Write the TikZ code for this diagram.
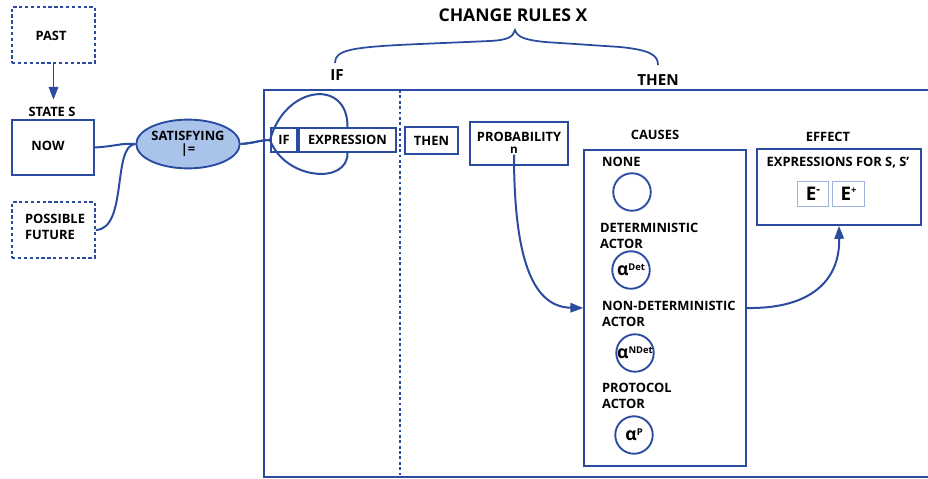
\documentclass[tikz,border=0pt]{standalone}
\usepackage{fontspec}
\setmainfont{Open Sans}
\usetikzlibrary{arrows.meta,shapes.geometric}
\definecolor{lineblue}{HTML}{2B4BA0}
\definecolor{satfill}{HTML}{A9C3EA}
\definecolor{thinblue}{HTML}{9DB2DC}
\tikzset{
  every node/.style={font=\bfseries\fontsize{11}{13}\selectfont, text=black},
  solidbox/.style={draw=lineblue, line width=1.8pt, rectangle, inner sep=0pt},
  dashbox/.style={draw=lineblue, line width=1.6pt, dash pattern=on 2.8pt off 2.2pt, rectangle, inner sep=0pt},
  actor/.style={draw=lineblue, line width=1.6pt, circle, minimum size=32pt, inner sep=0pt},
  ebox/.style={draw=thinblue, line width=0.7pt, rectangle, minimum width=27pt, minimum height=21pt, inner sep=0pt, font=\bfseries\fontsize{16}{16}\selectfont},
  conn/.style={draw=lineblue, line width=1.7pt},
  tip/.style={-{Triangle[length=11pt, width=8pt]}}
}
\begin{document}
\begin{tikzpicture}[x=0.03cm, y=-0.03cm]
\useasboundingbox (0,0) rectangle (928,478);
% left side: states
\node[dashbox, minimum width=83*0.85pt, minimum height=56*0.85pt] (past) at (53.5,35) {};
\node (pasttxt) at (51,36) {PAST};
\node (statelbl) at (52,112) {STATE S};
\node[solidbox, minimum width=82*0.85pt, minimum height=55*0.85pt] (now) at (53,147.5) {};
\node (nowtxt) at (48,146) {NOW};
\node[dashbox, minimum width=83*0.85pt, minimum height=56*0.85pt] (future) at (53.5,230) {};
\node[align=left, font=\bfseries\fontsize{11}{13}\selectfont] (futuretxt) at (55,227) {POSSIBLE\\FUTURE};
\node[draw=lineblue, fill=satfill, line width=1.6pt, ellipse, minimum width=95*0.85pt, minimum height=49*0.85pt, inner sep=0pt, align=center, font=\bfseries\fontsize{11}{13}\selectfont] (sat) at (188,144) {SATISFYING\\[-2pt]|=};
\draw[conn, tip] (past.south) -- ++(0,36);
\draw[conn] (now.east) .. controls (118,146) and (120,143) .. (sat.west);
\draw[conn] (future.east) .. controls (128,229) and (112,145) .. (sat.west);
% change rules frame
\node[font=\bfseries\fontsize{15}{17}\selectfont] (title) at (513,15) {CHANGE RULES X};
\node[font=\bfseries\fontsize{13}{15}\selectfont] (iflbl) at (337,75) {IF};
\node[font=\bfseries\fontsize{13}{15}\selectfont] (thenlbl) at (658,80) {THEN};
\draw[conn, line width=1.5pt] (335,63) .. controls (335,50) and (350,47) .. (420,44) -- (490,41) .. controls (508,40) and (513,37) .. (515,30)
  .. controls (517,37) and (525,40) .. (545,42) -- (620,47) .. controls (650,50) and (658,55) .. (658,65);
\draw[conn] (928,90) -- (264,90) -- (264,477) -- (928,477);
\draw[draw=lineblue, line width=1.6pt, dash pattern=on 2.4pt off 2.2pt] (400,90) -- (400,477);
% if part
\node[solidbox, minimum width=26*0.85pt, minimum height=24*0.85pt] (ifbox) at (284,140) {IF};
\node[solidbox, minimum width=97*0.85pt, minimum height=24*0.85pt] (expr) at (347.5,140) {EXPRESSION};
\draw[conn] (sat.east) .. controls (255,143) and (260,140) .. (270,140) .. controls (285,85) and (348,78) .. (expr.north);
\draw[conn] (sat.east) .. controls (255,143) and (260,140) .. (270,140) .. controls (285,180) and (348,185) .. (expr.south);
% then part
\node[solidbox, minimum width=53*0.85pt, minimum height=27*0.85pt] (thenbox) at (431.5,140.5) {THEN};
\node[solidbox, minimum width=98*0.85pt, minimum height=43*0.85pt] (prob) at (519,143.5) {};
\node (probtxt) at (519,137) {PROBABILITY};
\node[font=\bfseries\fontsize{10}{10}\selectfont, inner sep=1pt] (n) at (514,150) {n};
\node (causeslbl) at (655,135) {CAUSES};
\node[solidbox, minimum width=162*0.85pt, minimum height=318*0.85pt] (causes) at (665,308) {};
\node[anchor=west] (none) at (598,162) {NONE};
\node[actor] (anone) at (632,192) {};
\node[anchor=west, align=left, font=\bfseries\fontsize{11}{13}\selectfont] (det) at (596,236) {DETERMINISTIC\\ACTOR};
\node[actor, font=\bfseries\fontsize{15}{15}\selectfont] (adet) at (631,270) {α\raisebox{4pt}{\fontsize{8}{8}\selectfont Det}};
\node[anchor=west, align=left, font=\bfseries\fontsize{11}{13}\selectfont] (ndet) at (598,314) {NON-DETERMINISTIC\\ACTOR};
\node[actor, font=\bfseries\fontsize{15}{15}\selectfont] (andet) at (635,353) {α\raisebox{4pt}{\fontsize{8}{8}\selectfont NDet}};
\node[anchor=west, align=left, font=\bfseries\fontsize{11}{13}\selectfont] (prot) at (598,396) {PROTOCOL\\ACTOR};
\node[actor, font=\bfseries\fontsize{15}{15}\selectfont] (aprot) at (634,435) {α\raisebox{4pt}{\fontsize{8}{8}\selectfont P}};
% effect part
\node (effectlbl) at (828,137) {EFFECT};
\node[solidbox, minimum width=164*0.85pt, minimum height=76*0.85pt] (effect) at (839,187) {};
\node (exprs) at (838,163) {EXPRESSIONS FOR S, S'};
\node[ebox] (eminus) at (813,194) {E\raisebox{6pt}{\fontsize{10}{10}\selectfont -}};
\node[ebox] (eplus) at (848.5,194) {E\raisebox{6pt}{\fontsize{8}{8}\selectfont +}};
\draw[conn, tip] (n.south) .. controls (514,265) and (535,307) .. (causes.west);
\draw[conn, tip] (causes.east) .. controls (805,309) and (840,285) .. (effect.south);
\end{tikzpicture}
\end{document}
